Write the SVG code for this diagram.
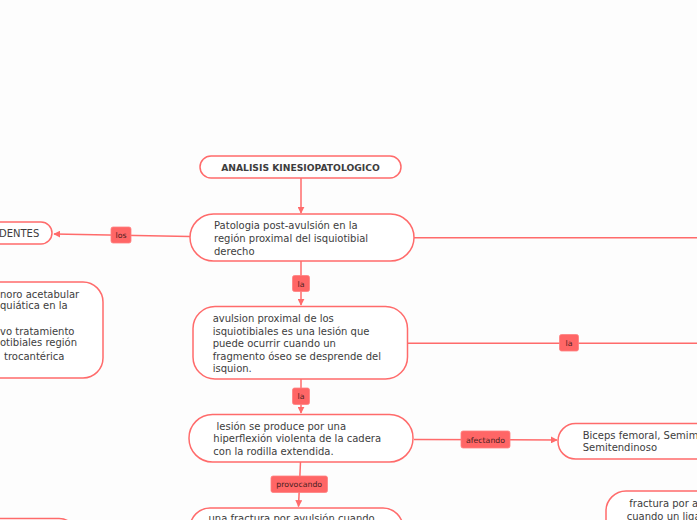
<svg xmlns="http://www.w3.org/2000/svg" width="697" height="520" viewBox="0 0 697 520">
<defs>
<marker id="arr" viewBox="0 0 10 10" refX="9" refY="5" markerWidth="7" markerHeight="7" markerUnits="userSpaceOnUse" orient="auto">
<path d="M0,0 L10,5 L0,10 z" fill="#ff6b6b"/>
</marker>
<style>
.node{fill:#ffffff;stroke:#ff6b6b;stroke-width:1.5}
.t{font-family:"DejaVu Sans",Verdana,sans-serif;font-size:10px;fill:#3d3d3d}
.tb{font-family:"DejaVu Sans",Verdana,sans-serif;font-size:9.2px;font-weight:bold;fill:#3d3d3d}
.c{fill:none;stroke:#ff6b6b;stroke-width:1.5}
.lb{fill:#ff6666;stroke:#ff8080;stroke-width:0.8}
.lt{font-family:"DejaVu Sans",Verdana,sans-serif;font-size:7.8px;fill:#4a2020;text-anchor:middle}
</style>
</defs>
<rect width="697" height="520" fill="#fdfdfd"/>
<g id="connectors">
<line class="c" x1="301" y1="178" x2="301" y2="213" marker-end="url(#arr)"/>
<line class="c" x1="190" y1="236.5" x2="54" y2="234" marker-end="url(#arr)"/>
<line class="c" x1="414" y1="237.7" x2="697" y2="237.7"/>
<line class="c" x1="301" y1="261" x2="301" y2="305" marker-end="url(#arr)"/>
<line class="c" x1="408" y1="343.3" x2="697" y2="343.3"/>
<line class="c" x1="301" y1="379" x2="301" y2="413" marker-end="url(#arr)"/>
<line class="c" x1="414" y1="439.5" x2="557" y2="440" marker-end="url(#arr)"/>
<line class="c" x1="300.5" y1="462" x2="298.5" y2="506.5" marker-end="url(#arr)"/>
<g id="lbl-los"><rect class="lb" x="111" y="227" width="20" height="16" rx="2"/><text class="lt" x="121" y="238">los</text></g>
<g id="lbl-la1"><rect class="lb" x="292.5" y="275.5" width="17" height="16" rx="2"/><text class="lt" x="301" y="286.5">la</text></g>
<g id="lbl-la2"><rect class="lb" x="559.5" y="334.5" width="19" height="16.5" rx="2"/><text class="lt" x="569" y="345.8">la</text></g>
<g id="lbl-la3"><rect class="lb" x="292.5" y="388" width="17" height="16.5" rx="2"/><text class="lt" x="301" y="399.3">la</text></g>
<g id="lbl-afectando"><rect class="lb" x="461" y="431" width="49" height="17" rx="2"/><text class="lt" x="485.5" y="442.5">afectando</text></g>
<g id="lbl-provocando"><rect class="lb" x="271" y="476" width="56.5" height="16.5" rx="2"/><text class="lt" x="299.2" y="487.3">provocando</text></g>
</g>
<g id="n-title">
<rect class="node" x="200" y="156" width="201" height="22" rx="11"/>
<text class="tb" x="300.5" y="170.5" text-anchor="middle">ANALISIS KINESIOPATOLOGICO</text>
</g>
<g id="n-patologia">
<rect class="node" x="190" y="214" width="224" height="47" rx="23.5"/>
<text class="t" x="214" y="229">Patologia post-avulsión en la</text>
<text class="t" x="214" y="242">región proximal del isquiotibial</text>
<text class="t" x="214" y="254.5">derecho</text>
</g>
<g id="n-antecedentes">
<rect class="node" x="-30" y="222" width="82" height="22" rx="11"/>
<text class="t" x="-1" y="236.8">DENTES</text>
</g>
<g id="n-left-desc">
<rect class="node" x="-100" y="282" width="203" height="96" rx="20"/>
<text class="t" x="0" y="297.5">noro acetabular</text>
<text class="t" x="0" y="309">quiática en la</text>
<text class="t" x="0" y="335">vo tratamiento</text>
<text class="t" x="0" y="346.3">otibiales región</text>
<text class="t" x="4" y="359.5">trocantérica</text>
</g>
<g id="n-avulsion">
<rect class="node" x="193" y="306.5" width="214.5" height="72.5" rx="22"/>
<text class="t" x="212.7" y="321.8">avulsion proximal de los</text>
<text class="t" x="212.7" y="334.8">isquiotibiales es una lesión que</text>
<text class="t" x="212.7" y="347">puede ocurrir cuando un</text>
<text class="t" x="212.7" y="359.7">fragmento óseo se desprende del</text>
<text class="t" x="212.7" y="372">isquion.</text>
</g>
<g id="n-lesion">
<rect class="node" x="189" y="414.5" width="224" height="47.5" rx="23.5"/>
<text class="t" x="216.5" y="430">lesión se produce por una</text>
<text class="t" x="213.3" y="442">hiperflexión violenta de la cadera</text>
<text class="t" x="213.3" y="455">con la rodilla extendida.</text>
</g>
<g id="n-biceps">
<rect class="node" x="558" y="423.5" width="180" height="35.5" rx="17.5"/>
<text class="t" x="582.7" y="438.5">Biceps femoral, Semime</text>
<text class="t" x="582.7" y="451.2">Semitendinoso</text>
</g>
<g id="n-fractura">
<rect class="node" x="190" y="508" width="213" height="40" rx="20"/>
<text class="t" x="208.5" y="522">una fractura por avulsión cuando</text>
</g>
<g id="n-bottom-left">
<rect class="node" x="-100" y="518.5" width="177" height="40" rx="18"/>
</g>
<g id="n-bottom-right">
<rect class="node" x="606" y="491" width="160" height="50" rx="20"/>
<text class="t" x="629.3" y="506.8">fractura por a</text>
<text class="t" x="626.7" y="519.5">cuando un liga</text>
</g>
</svg>
